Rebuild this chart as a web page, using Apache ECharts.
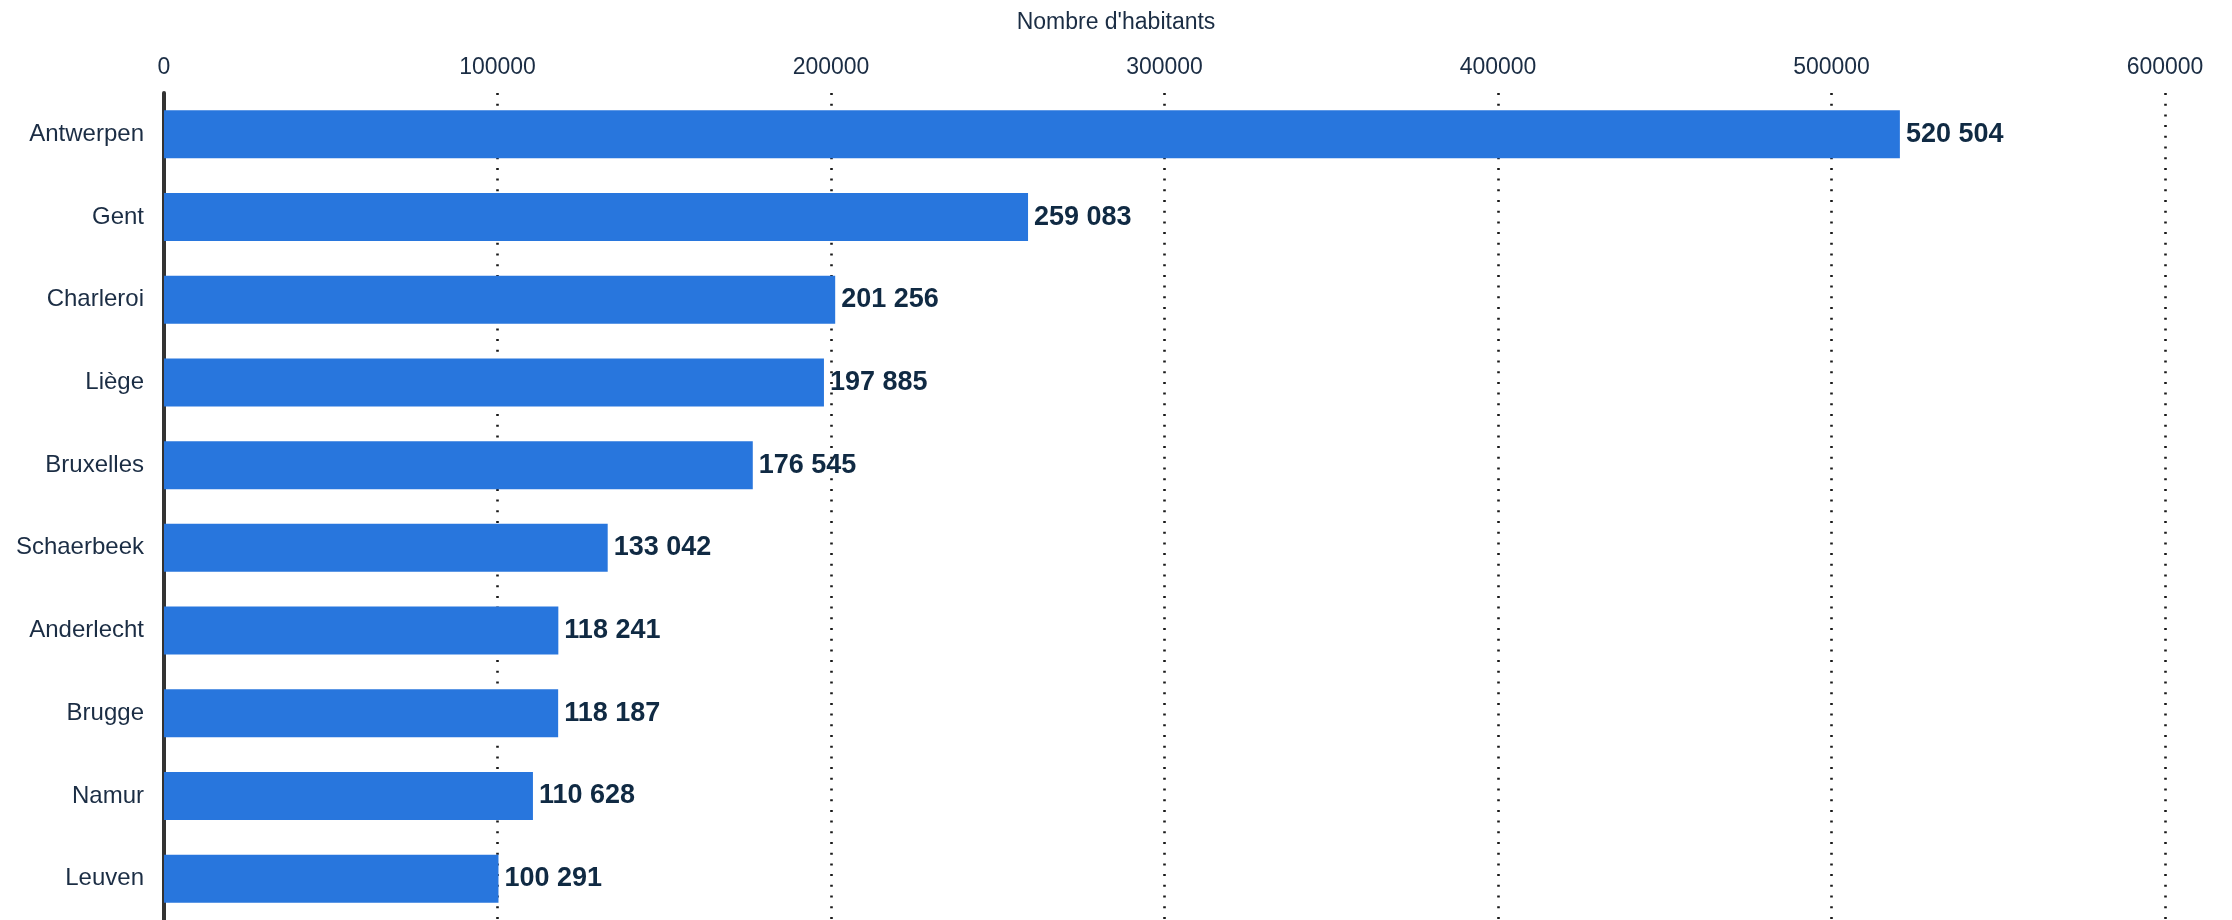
<!DOCTYPE html>
<html>
<head>
<meta charset="utf-8">
<script src="https://cdn.jsdelivr.net/npm/echarts@6/dist/echarts.min.js"></script>
<style>
html,body{margin:0;padding:0;background:#fff;}
#chart{width:2232px;height:920px;}
</style>
</head>
<body>
<div id="chart"></div>
<script>
var categories = ['Antwerpen','Gent','Charleroi','Liège','Bruxelles','Schaerbeek','Anderlecht','Brugge','Namur','Leuven'];
var values = [520504, 259083, 201256, 197885, 176545, 133042, 118241, 118187, 110628, 100291];
var axisTitle = "Nombre d'habitants";

function fmt(v){ return String(v).replace(/\B(?=(\d{3})+(?!\d))/g, ' '); }

var chart = echarts.init(document.getElementById('chart'));
chart.setOption({
  backgroundColor: '#ffffff',
  animation: false,
  title: {
    text: axisTitle,
    left: 'center',
    top: 11,
    padding: 0,
    textStyle: { fontFamily: 'Liberation Sans, Arial, sans-serif', fontSize: 23, fontWeight: 'normal', color: '#1b2d44' }
  },
  grid: { left: 164, right: 67, top: 93, bottom: 0, containLabel: false },
  xAxis: {
    type: 'value',
    position: 'top',
    min: 0, max: 600000, interval: 100000,
    axisLine: { show: false },
    axisTick: { show: false },
    axisLabel: { fontFamily: 'Liberation Sans, Arial, sans-serif', fontSize: 23, color: '#1b2d44', margin: 14,
      formatter: function(v){ return String(v); } },
    splitLine: { show: true, lineStyle: { color: '#1a1a1a', width: 2.6, type: [2, 8.7] } }
  },
  yAxis: {
    type: 'category',
    data: categories,
    inverse: true,
    axisLine: { show: true, lineStyle: { color: '#333333', width: 4 } },
    axisTick: { show: false },
    axisLabel: { fontFamily: 'Liberation Sans, Arial, sans-serif', fontSize: 24, color: '#1b2d44', margin: 20 },
    splitLine: { show: false }
  },
  series: [{
    type: 'bar',
    data: values,
    barCategoryGap: '42%',
    itemStyle: { color: '#2876dd' },
    label: {
      show: true,
      position: 'right',
      distance: 6,
      formatter: function(p){ return fmt(p.value); },
      fontFamily: 'Liberation Sans, Arial, sans-serif',
      fontSize: 27,
      fontWeight: 'bold',
      color: '#102a43'
    }
  }]
});
</script>
</body>
</html>
